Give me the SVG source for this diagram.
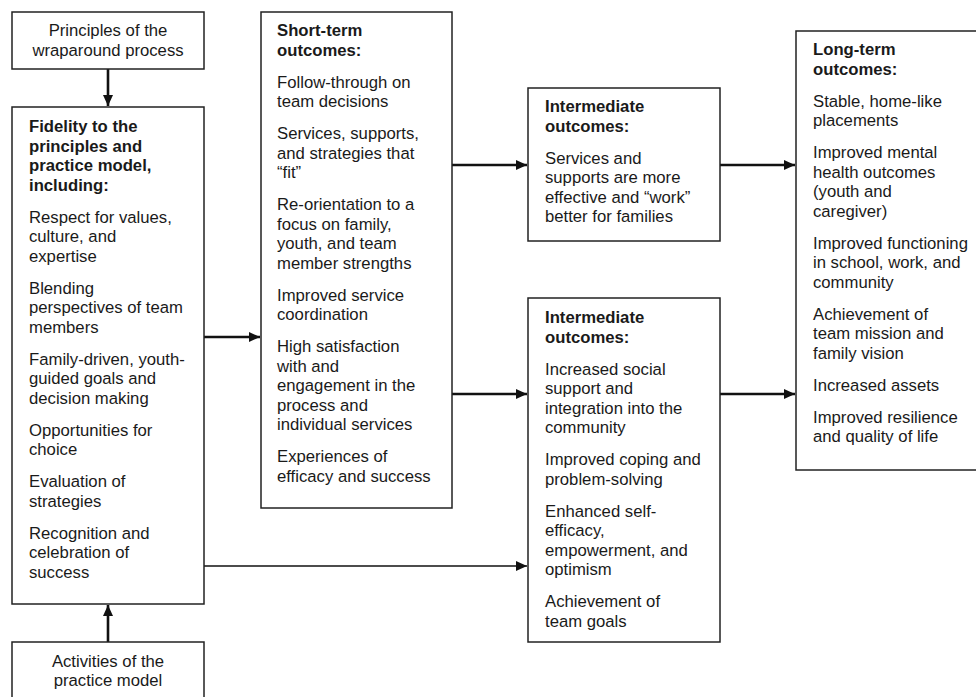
<svg xmlns="http://www.w3.org/2000/svg" width="976" height="697" viewBox="0 0 976 697">
<defs>
<style>
.box{fill:#fff;stroke:#222;stroke-width:1.5}
.t{font-family:"Liberation Sans",Arial,sans-serif;font-size:16.7px;fill:#1a1a1a}
.b{font-weight:bold}
.c{text-anchor:middle}
.con{stroke:#111;fill:none}
.thick{stroke-width:2.6}
.thin{stroke-width:1.4}
</style>
<marker id="ah" viewBox="0 0 11 10" refX="11" refY="5" markerWidth="11" markerHeight="10" markerUnits="userSpaceOnUse" orient="auto">
<path d="M0,0 L11,5 L0,10 z" fill="#111"/>
</marker>
</defs>
<rect width="976" height="697" fill="#fff"/>
<g id="connectors">
<line class="con thick" x1="108" y1="69" x2="108" y2="106" marker-end="url(#ah)"/>
<line class="con thick" x1="108" y1="642" x2="108" y2="605" marker-end="url(#ah)"/>
<line class="con thick" x1="204" y1="337" x2="260" y2="337" marker-end="url(#ah)"/>
<line class="con thin" x1="204" y1="566" x2="527" y2="566" marker-end="url(#ah)"/>
<line class="con thick" x1="452" y1="165" x2="527" y2="165" marker-end="url(#ah)"/>
<line class="con thick" x1="452" y1="394" x2="527" y2="394" marker-end="url(#ah)"/>
<line class="con thick" x1="720" y1="165" x2="795" y2="165" marker-end="url(#ah)"/>
<line class="con thick" x1="720" y1="394" x2="795" y2="394" marker-end="url(#ah)"/>
</g>
<g id="principles">
<rect class="box" x="12" y="12" width="192" height="57"/>
<text class="t c" x="108" y="36">Principles of the</text>
<text class="t c" x="108" y="55.5">wraparound process</text>
</g>
<g id="fidelity">
<rect class="box" x="12" y="107" width="192" height="497"/>
<text class="t b" x="29" y="132">Fidelity to the</text>
<text class="t b" x="29" y="151.5">principles and</text>
<text class="t b" x="29" y="171">practice model,</text>
<text class="t b" x="29" y="190.5">including:</text>
<text class="t" x="29" y="222.5">Respect for values,</text>
<text class="t" x="29" y="242">culture, and</text>
<text class="t" x="29" y="261.5">expertise</text>
<text class="t" x="29" y="293.5">Blending</text>
<text class="t" x="29" y="313">perspectives of team</text>
<text class="t" x="29" y="332.5">members</text>
<text class="t" x="29" y="364.5">Family-driven, youth-</text>
<text class="t" x="29" y="384">guided goals and</text>
<text class="t" x="29" y="403.5">decision making</text>
<text class="t" x="29" y="435.5">Opportunities for</text>
<text class="t" x="29" y="455">choice</text>
<text class="t" x="29" y="487">Evaluation of</text>
<text class="t" x="29" y="506.5">strategies</text>
<text class="t" x="29" y="538.5">Recognition and</text>
<text class="t" x="29" y="558">celebration of</text>
<text class="t" x="29" y="577.5">success</text>
</g>
<g id="activities">
<rect class="box" x="12" y="642" width="192" height="70"/>
<text class="t c" x="108" y="667">Activities of the</text>
<text class="t c" x="108" y="686">practice model</text>
</g>
<g id="short-term">
<rect class="box" x="261" y="12" width="191" height="496"/>
<text class="t b" x="277" y="36">Short-term</text>
<text class="t b" x="277" y="55.5">outcomes:</text>
<text class="t" x="277" y="87.5">Follow-through on</text>
<text class="t" x="277" y="107">team decisions</text>
<text class="t" x="277" y="139">Services, supports,</text>
<text class="t" x="277" y="158.5">and strategies that</text>
<text class="t" x="277" y="178">“fit”</text>
<text class="t" x="277" y="210">Re-orientation to a</text>
<text class="t" x="277" y="229.5">focus on family,</text>
<text class="t" x="277" y="249">youth, and team</text>
<text class="t" x="277" y="268.5">member strengths</text>
<text class="t" x="277" y="300.5">Improved service</text>
<text class="t" x="277" y="320">coordination</text>
<text class="t" x="277" y="352">High satisfaction</text>
<text class="t" x="277" y="371.5">with and</text>
<text class="t" x="277" y="391">engagement in the</text>
<text class="t" x="277" y="410.5">process and</text>
<text class="t" x="277" y="430">individual services</text>
<text class="t" x="277" y="462">Experiences of</text>
<text class="t" x="277" y="481.5">efficacy and success</text>
</g>
<g id="intermediate-1">
<rect class="box" x="528" y="88" width="192" height="153"/>
<text class="t b" x="545" y="112">Intermediate</text>
<text class="t b" x="545" y="131.5">outcomes:</text>
<text class="t" x="545" y="163.5">Services and</text>
<text class="t" x="545" y="183">supports are more</text>
<text class="t" x="545" y="202.5">effective and “work”</text>
<text class="t" x="545" y="222">better for families</text>
</g>
<g id="intermediate-2">
<rect class="box" x="528" y="298" width="192" height="344"/>
<text class="t b" x="545" y="323">Intermediate</text>
<text class="t b" x="545" y="342.5">outcomes:</text>
<text class="t" x="545" y="374.5">Increased social</text>
<text class="t" x="545" y="394">support and</text>
<text class="t" x="545" y="413.5">integration into the</text>
<text class="t" x="545" y="433">community</text>
<text class="t" x="545" y="465">Improved coping and</text>
<text class="t" x="545" y="484.5">problem-solving</text>
<text class="t" x="545" y="516.5">Enhanced self-</text>
<text class="t" x="545" y="536">efficacy,</text>
<text class="t" x="545" y="555.5">empowerment, and</text>
<text class="t" x="545" y="575">optimism</text>
<text class="t" x="545" y="607">Achievement of</text>
<text class="t" x="545" y="626.5">team goals</text>
</g>
<g id="long-term">
<rect class="box" x="796" y="31" width="184" height="439"/>
<text class="t b" x="813" y="55">Long-term</text>
<text class="t b" x="813" y="74.5">outcomes:</text>
<text class="t" x="813" y="106.5">Stable, home-like</text>
<text class="t" x="813" y="126">placements</text>
<text class="t" x="813" y="158">Improved mental</text>
<text class="t" x="813" y="177.5">health outcomes</text>
<text class="t" x="813" y="197">(youth and</text>
<text class="t" x="813" y="216.5">caregiver)</text>
<text class="t" x="813" y="248.5">Improved functioning</text>
<text class="t" x="813" y="268">in school, work, and</text>
<text class="t" x="813" y="287.5">community</text>
<text class="t" x="813" y="319.5">Achievement of</text>
<text class="t" x="813" y="339">team mission and</text>
<text class="t" x="813" y="358.5">family vision</text>
<text class="t" x="813" y="390.5">Increased assets</text>
<text class="t" x="813" y="422.5">Improved resilience</text>
<text class="t" x="813" y="442">and quality of life</text>
</g>
</svg>
